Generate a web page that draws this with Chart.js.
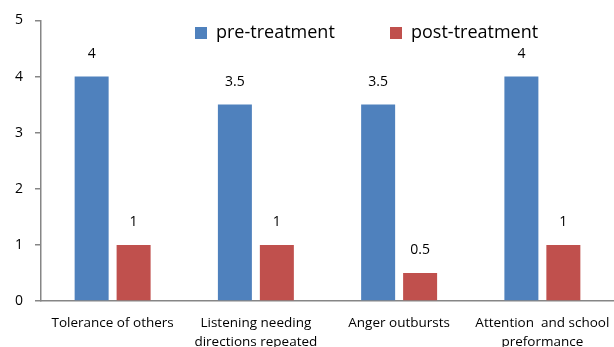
<!DOCTYPE html>
<html>
<head>
<meta charset="utf-8">
<script src="https://cdn.jsdelivr.net/npm/chart.js@4/dist/chart.umd.min.js"></script>
<style>
  html, body { margin: 0; padding: 0; background: #fff; overflow: hidden; }
  #wrap { width: 614px; height: 362px; }
</style>
</head>
<body>
<div id="wrap"><canvas id="chart"></canvas></div>
<script>
const categories = [
  "Tolerance of others",
  ["Listening needing", "directions repeated"],
  "Anger outbursts",
  ["Attention  and school", "preformance"],
];
const preTreatment = [4, 3.5, 3.5, 4];
const postTreatment = [1, 1, 0.5, 1];
const yTicks = [0, 1, 2, 3, 4, 5];

const FONT = "'Open Sans', 'Noto Sans', sans-serif";

// value labels above each bar
const barLabels = {
  id: "barLabels",
  afterDatasetsDraw(chart) {
    const ctx = chart.ctx;
    ctx.save();
    ctx.font = "14px " + FONT;
    ctx.fillStyle = "#000";
    ctx.textAlign = "center";
    ctx.textBaseline = "middle";
    chart.data.datasets.forEach((ds, i) => {
      chart.getDatasetMeta(i).data.forEach((bar, j) => {
        ctx.fillText(String(ds.data[j]), bar.x, bar.y - 23);
      });
    });
    ctx.restore();
  },
};

// legend sitting inside the plot area
const innerLegend = {
  id: "innerLegend",
  afterDraw(chart) {
    const ctx = chart.ctx;
    const spots = [195, 390];
    ctx.save();
    ctx.font = "18px " + FONT;
    ctx.textBaseline = "middle";
    chart.data.datasets.forEach((ds, i) => {
      const x = spots[i];
      ctx.fillStyle = ds.backgroundColor;
      ctx.fillRect(x, 27, 12, 12);
      ctx.fillStyle = "#000";
      ctx.fillText(ds.label, x + 21, 33);
    });
    ctx.restore();
  },
};

new Chart(document.getElementById("chart"), {
  type: "bar",
  data: {
    labels: categories,
    datasets: [
      {
        label: "pre-treatment",
        data: preTreatment,
        backgroundColor: "#4F81BD",
      },
      {
        label: "post-treatment",
        data: postTreatment,
        backgroundColor: "#C0504D",
      },
    ],
  },
  options: {
    responsive: true,
    maintainAspectRatio: false,
    animation: false,
    categoryPercentage: 0.586,
    barPercentage: 0.81,
    layout: { padding: { top: 18, right: 0, left: 0, bottom: 0 } },
    plugins: {
      legend: { display: false },
      tooltip: { enabled: false },
    },
    scales: {
      x: {
        grid: { display: false },
        border: { color: "#868686", width: 1.5 },
        ticks: {
          color: "#000",
          padding: 4,
          maxRotation: 0,
          autoSkip: false,
          font: { family: FONT, size: 13.5, lineHeight: 1.45 },
        },
        afterFit(scale) { scale.height = 61; },
      },
      y: {
        min: 0,
        max: 5,
        afterBuildTicks(scale) {
          scale.ticks = yTicks.map((v) => ({ value: v }));
        },
        grid: {
          drawOnChartArea: false,
          drawTicks: true,
          tickLength: 6,
          color: "#868686",
          lineWidth: 1.5,
        },
        border: { color: "#868686", width: 1.5 },
        ticks: {
          color: "#000",
          padding: 12,
          font: { family: FONT, size: 14 },
        },
        afterFit(scale) { scale.width = 41; },
      },
    },
  },
  plugins: [barLabels, innerLegend],
});
</script>
</body>
</html>
